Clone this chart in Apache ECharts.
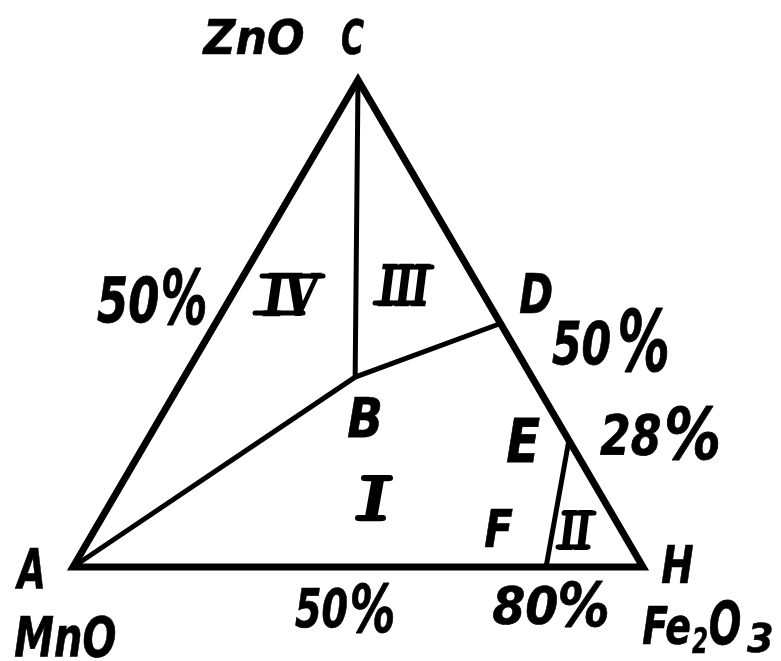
<!DOCTYPE html>
<html>
<head>
<meta charset="utf-8">
<script src="https://cdn.jsdelivr.net/npm/echarts@6/dist/echarts.min.js"></script>
<style>
html, body { margin: 0; padding: 0; background: #fff; }
#main { width: 781px; height: 661px; }
</style>
</head>
<body>
<div id="main"></div>
<script>
// composition of each point, % (MnO, Fe2O3, ZnO)
var pointNames = ['A', 'H', 'C', 'D', 'B', 'E', 'F'];
var mno = [100, 0, 0, 0, 31, 0, 17];
var fe2o3 = [0, 100, 0, 50, 30, 74, 83];
var zno = [0, 0, 100, 50, 39, 26, 0];

// lines of the diagram, by point name
var outline = ['A', 'H', 'C'];
var innerLines = [['C', 'B'], ['A', 'B', 'D'], ['E', 'F']];

var H3 = Math.sqrt(3) / 2;

function toXY(name) {
    var i = pointNames.indexOf(name);
    var s = mno[i] + fe2o3[i] + zno[i];
    var f = fe2o3[i] / s, z = zno[i] / s;
    return [f + z / 2, z * H3];
}

var paths = [{ pts: outline, closed: true, width: 7 }];
for (var k = 0; k < innerLines.length; k++) {
    paths.push({ pts: innerLines[k], closed: false, width: 5 });
}

// text labels: text, ink box left, right, top, bottom
var labels = [
    ['ZnO', 202, 303, 18, 55],
    ['C', 342, 364, 18, 55],
    ['50', 97, 158, 275, 323],
    ['%', 163, 205, 267, 325],
    ['D', 520, 552, 272, 313],
    ['50', 552, 610, 320, 365],
    ['%', 620, 667, 308, 372],
    ['B', 348, 380, 397, 437],
    ['E', 507, 540, 418, 462],
    ['28', 600, 660, 413, 455],
    ['%', 667, 718, 405, 460],
    ['F', 485, 513, 508, 547],
    ['A', 15, 43, 548, 588],
    ['H', 662, 693, 545, 583],
    ['MnO', 15, 115, 615, 657],
    ['50', 295, 347, 587, 628],
    ['%', 352, 393, 582, 633],
    ['80', 493, 557, 585, 625],
    ['%', 560, 607, 580, 627],
    ['Fe', 643, 690, 605, 645],
    ['2', 692, 707, 627, 653],
    ['O', 710, 740, 600, 645],
    ['3', 747, 772, 623, 653]
];

// roman region numbers: text, ink box, top bar [x0, x1, y], bottom bar, bar width
var romans = [
    ['IV', 263, 321, 274, 315, [262, 323, 276], [255, 303, 313], 5],
    ['III', 378, 430, 265, 305, [387, 432, 267], [375, 423, 303], 5],
    ['I', 360, 389, 476, 520, [364, 390, 478], [358, 383, 518], 6],
    ['II', 559, 592, 511, 549, [564, 594, 513], [558, 588, 547], 5]
];

var SANS = 'italic bold 60px "DejaVu Sans"';
var SERIF = 'italic bold 60px "DejaVu Serif"';
var measureCtx = document.createElement('canvas').getContext('2d');
measureCtx.textAlign = 'left';
measureCtx.textBaseline = 'middle';

// scale a text so that its ink fills the box
function fitText(text, x0, x1, y0, y1, font, lw) {
    measureCtx.font = font;
    var m = measureCtx.measureText(text);
    var left = m.actualBoundingBoxLeft, right = m.actualBoundingBoxRight;
    var asc = m.actualBoundingBoxAscent, desc = m.actualBoundingBoxDescent;
    var sx = (x1 - x0) / (left + right);
    var sy = (y1 - y0) / (asc + desc);
    return {
        type: 'text',
        x: x0 + sx * left,
        y: y0 + sy * asc,
        scaleX: sx,
        scaleY: sy,
        style: {
            text: text,
            x: 0,
            y: 0,
            font: font,
            fill: '#000',
            stroke: '#000',
            lineWidth: lw,
            align: 'left',
            verticalAlign: 'middle'
        }
    };
}

function bar(b, w) {
    return {
        type: 'line',
        shape: { x1: b[0], y1: b[2], x2: b[1], y2: b[2] },
        style: { stroke: '#000', lineWidth: w, lineCap: 'round' }
    };
}

var graphics = labels.map(function (l) {
    return fitText(l[0], l[1], l[2], l[3], l[4], SANS, 0.8);
});
romans.forEach(function (r) {
    graphics.push(fitText(r[0], r[1], r[2], r[3], r[4], SERIF, 2.5));
    graphics.push(bar(r[5], r[7]));
    graphics.push(bar(r[6], r[7]));
});

var chart = echarts.init(document.getElementById('main'));

var option = {
    backgroundColor: '#fff',
    animation: false,
    grid: { left: 73, right: 138, top: 80, bottom: 94 },
    xAxis: { type: 'value', min: 0, max: 1, show: false },
    yAxis: { type: 'value', min: 0, max: H3, show: false },
    series: [{
        type: 'custom',
        coordinateSystem: 'cartesian2d',
        data: paths.map(function (p, i) { return [i, 0]; }),
        renderItem: function (params, api) {
            var p = paths[params.dataIndex];
            var pts = p.pts.map(function (n) { return api.coord(toXY(n)); });
            return {
                type: p.closed ? 'polygon' : 'polyline',
                shape: { points: pts },
                style: {
                    fill: 'none',
                    stroke: '#000',
                    lineWidth: p.width,
                    lineJoin: 'miter',
                    lineCap: 'round'
                }
            };
        }
    }],
    graphic: graphics
};

chart.setOption(option);
</script>
</body>
</html>
